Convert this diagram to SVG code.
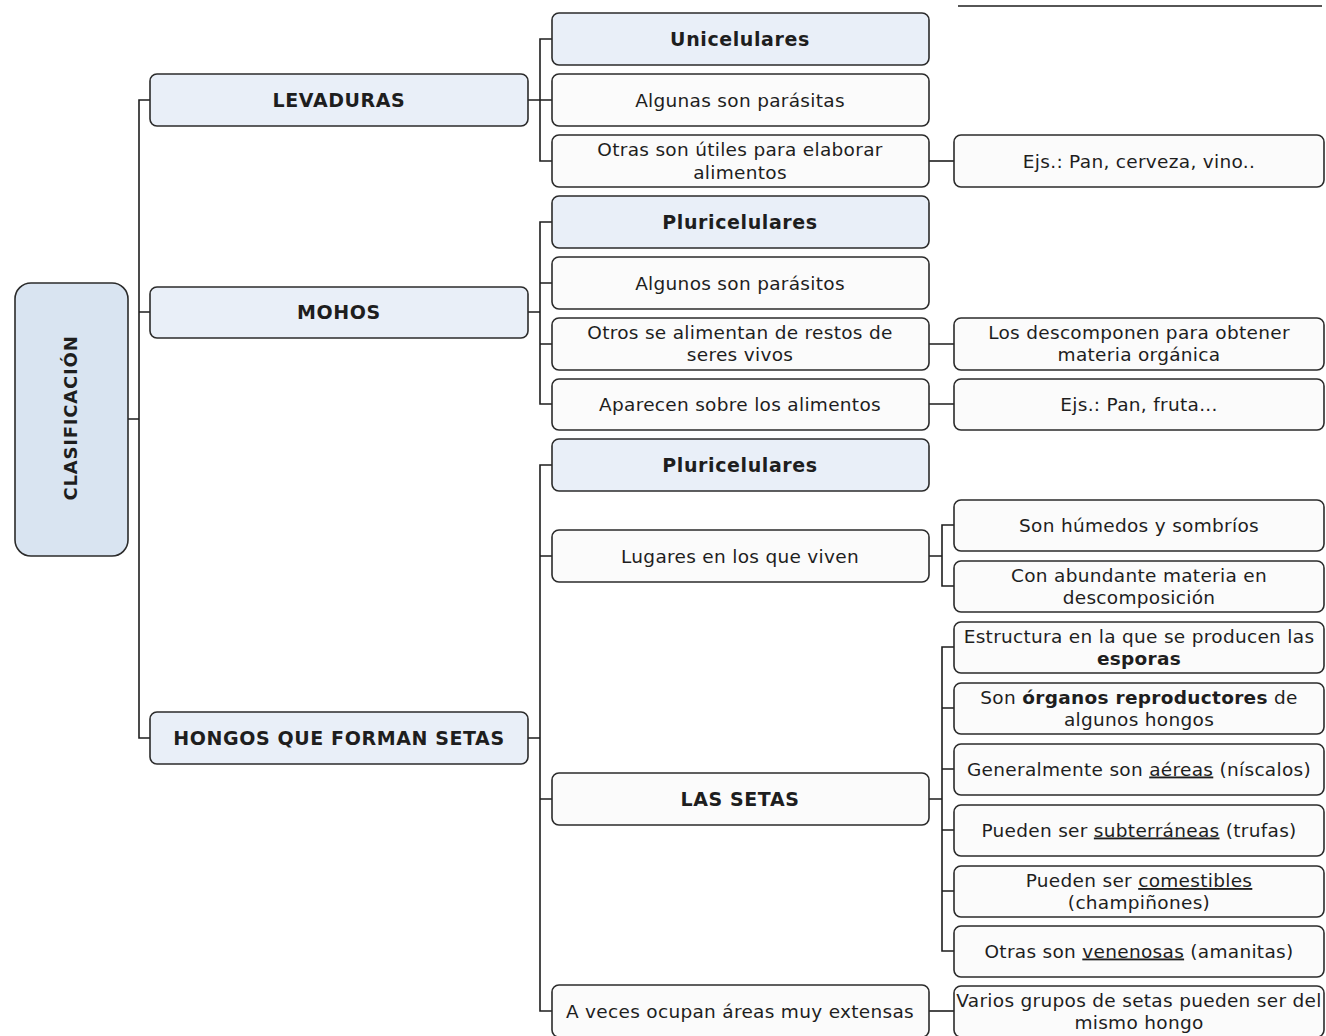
<svg xmlns="http://www.w3.org/2000/svg" width="1326" height="1036" viewBox="0 0 1326 1036">
<style>
.b{fill:#fbfbfb;stroke:#2b2b2b;stroke-width:1.6}
.h{fill:#e9eff8;stroke:#2b2b2b;stroke-width:1.6}
.r{fill:#d9e4f1;stroke:#2b2b2b;stroke-width:1.6}
.t{font-family:"DejaVu Sans",Verdana,sans-serif;font-size:18.5px;letter-spacing:0.3px;fill:#1e1e1e;text-anchor:middle}
.tb{font-family:"DejaVu Sans",Verdana,sans-serif;font-size:19px;letter-spacing:0.6px;font-weight:bold;fill:#1e1e1e;text-anchor:middle}
.c{fill:none;stroke:#1e1e1e;stroke-width:1.6}
.u{text-decoration:underline}
.k{font-weight:bold}
</style>
<rect width="1326" height="1036" fill="#ffffff"/>
<g id="connectors">
<path class="c" d="M958 6H1322"/>
<path class="c" d="M128 419H139M150 100H139V738H150M139 312H150"/>
<path class="c" d="M528 100H540M552 39H540V161H552M540 100H552"/>
<path class="c" d="M929 161H954"/>
<path class="c" d="M528 312H540M552 222H540V404H552M540 283H552M540 344H552"/>
<path class="c" d="M929 344H954M929 404H954"/>
<path class="c" d="M528 738H540M552 465H540V1011H552M540 556H552M540 799H552"/>
<path class="c" d="M929 556H942M954 525H942V586H954"/>
<path class="c" d="M929 799H942M954 647H942V951H954M942 708H954M942 769H954M942 830H954M942 891H954"/>
<path class="c" d="M929 1011H954"/>
</g>
<g id="n-clasificacion"><rect class="r" x="15" y="283" width="113" height="273" rx="16"/><text class="tb" transform="translate(77,418) rotate(-90)" style="font-size:18px;letter-spacing:0.8px">CLASIFICACIÓN</text></g>
<g id="n-levaduras"><rect class="h" x="150" y="74" width="378" height="52" rx="7"/><text class="tb" x="339" y="107">LEVADURAS</text></g>
<g id="n-mohos"><rect class="h" x="150" y="287" width="378" height="51" rx="7"/><text class="tb" x="339" y="319">MOHOS</text></g>
<g id="n-hongos"><rect class="h" x="150" y="712" width="378" height="52" rx="7"/><text class="tb" x="339" y="745">HONGOS QUE FORMAN SETAS</text></g>
<g id="n-unicelulares"><rect class="h" x="552" y="13" width="377" height="52" rx="7"/><text class="tb" x="740" y="46">Unicelulares</text></g>
<g id="n-algunas"><rect class="b" x="552" y="74" width="377" height="52" rx="7"/><text class="t" x="740" y="106.5">Algunas son parásitas</text></g>
<g id="n-otras-utiles"><rect class="b" x="552" y="135" width="377" height="52" rx="7"/><text class="t" x="740" y="156">Otras son útiles para elaborar</text><text class="t" x="740" y="179">alimentos</text></g>
<g id="n-ejs1"><rect class="b" x="954" y="135" width="370" height="52" rx="7"/><text class="t" x="1139" y="167.5">Ejs.: Pan, cerveza, vino..</text></g>
<g id="n-pluri1"><rect class="h" x="552" y="196" width="377" height="52" rx="7"/><text class="tb" x="740" y="229">Pluricelulares</text></g>
<g id="n-algunos"><rect class="b" x="552" y="257" width="377" height="52" rx="7"/><text class="t" x="740" y="289.5">Algunos son parásitos</text></g>
<g id="n-otros-restos"><rect class="b" x="552" y="318" width="377" height="52" rx="7"/><text class="t" x="740" y="339">Otros se alimentan de restos de</text><text class="t" x="740" y="361">seres vivos</text></g>
<g id="n-descomponen"><rect class="b" x="954" y="318" width="370" height="52" rx="7"/><text class="t" x="1139" y="339">Los descomponen para obtener</text><text class="t" x="1139" y="361">materia orgánica</text></g>
<g id="n-aparecen"><rect class="b" x="552" y="379" width="377" height="51" rx="7"/><text class="t" x="740" y="410.5">Aparecen sobre los alimentos</text></g>
<g id="n-ejs2"><rect class="b" x="954" y="379" width="370" height="51" rx="7"/><text class="t" x="1139" y="410.5">Ejs.: Pan, fruta...</text></g>
<g id="n-pluri2"><rect class="h" x="552" y="439" width="377" height="52" rx="7"/><text class="tb" x="740" y="472">Pluricelulares</text></g>
<g id="n-lugares"><rect class="b" x="552" y="530" width="377" height="52" rx="7"/><text class="t" x="740" y="562.5">Lugares en los que viven</text></g>
<g id="n-humedos"><rect class="b" x="954" y="500" width="370" height="51" rx="7"/><text class="t" x="1139" y="531.5">Son húmedos y sombríos</text></g>
<g id="n-abundante"><rect class="b" x="954" y="561" width="370" height="51" rx="7"/><text class="t" x="1139" y="582">Con abundante materia en</text><text class="t" x="1139" y="604">descomposición</text></g>
<g id="n-lassetas"><rect class="b" x="552" y="773" width="377" height="52" rx="7"/><text class="tb" x="740" y="806">LAS SETAS</text></g>
<g id="n-estructura"><rect class="b" x="954" y="622" width="370" height="51" rx="7"/><text class="t" x="1139" y="643">Estructura en la que se producen las</text><text class="t" x="1139" y="665"><tspan class="k">esporas</tspan></text></g>
<g id="n-organos"><rect class="b" x="954" y="683" width="370" height="51" rx="7"/><text class="t" x="1139" y="704">Son <tspan class="k">órganos reproductores</tspan> de</text><text class="t" x="1139" y="726">algunos hongos</text></g>
<g id="n-aereas"><rect class="b" x="954" y="744" width="370" height="51" rx="7"/><text class="t" x="1139" y="775.5">Generalmente son <tspan class="u">aéreas</tspan> (níscalos)</text></g>
<g id="n-subterraneas"><rect class="b" x="954" y="805" width="370" height="51" rx="7"/><text class="t" x="1139" y="836.5">Pueden ser <tspan class="u">subterráneas</tspan> (trufas)</text></g>
<g id="n-comestibles"><rect class="b" x="954" y="866" width="370" height="51" rx="7"/><text class="t" x="1139" y="887">Pueden ser <tspan class="u">comestibles</tspan></text><text class="t" x="1139" y="909">(champiñones)</text></g>
<g id="n-venenosas"><rect class="b" x="954" y="926" width="370" height="51" rx="7"/><text class="t" x="1139" y="957.5">Otras son <tspan class="u">venenosas</tspan> (amanitas)</text></g>
<g id="n-aveces"><rect class="b" x="552" y="985" width="377" height="52" rx="7"/><text class="t" x="740" y="1017.5">A veces ocupan áreas muy extensas</text></g>
<g id="n-varios"><rect class="b" x="954" y="986" width="370" height="51" rx="7"/><text class="t" x="1139" y="1007">Varios grupos de setas pueden ser del</text><text class="t" x="1139" y="1029">mismo hongo</text></g>
</svg>
